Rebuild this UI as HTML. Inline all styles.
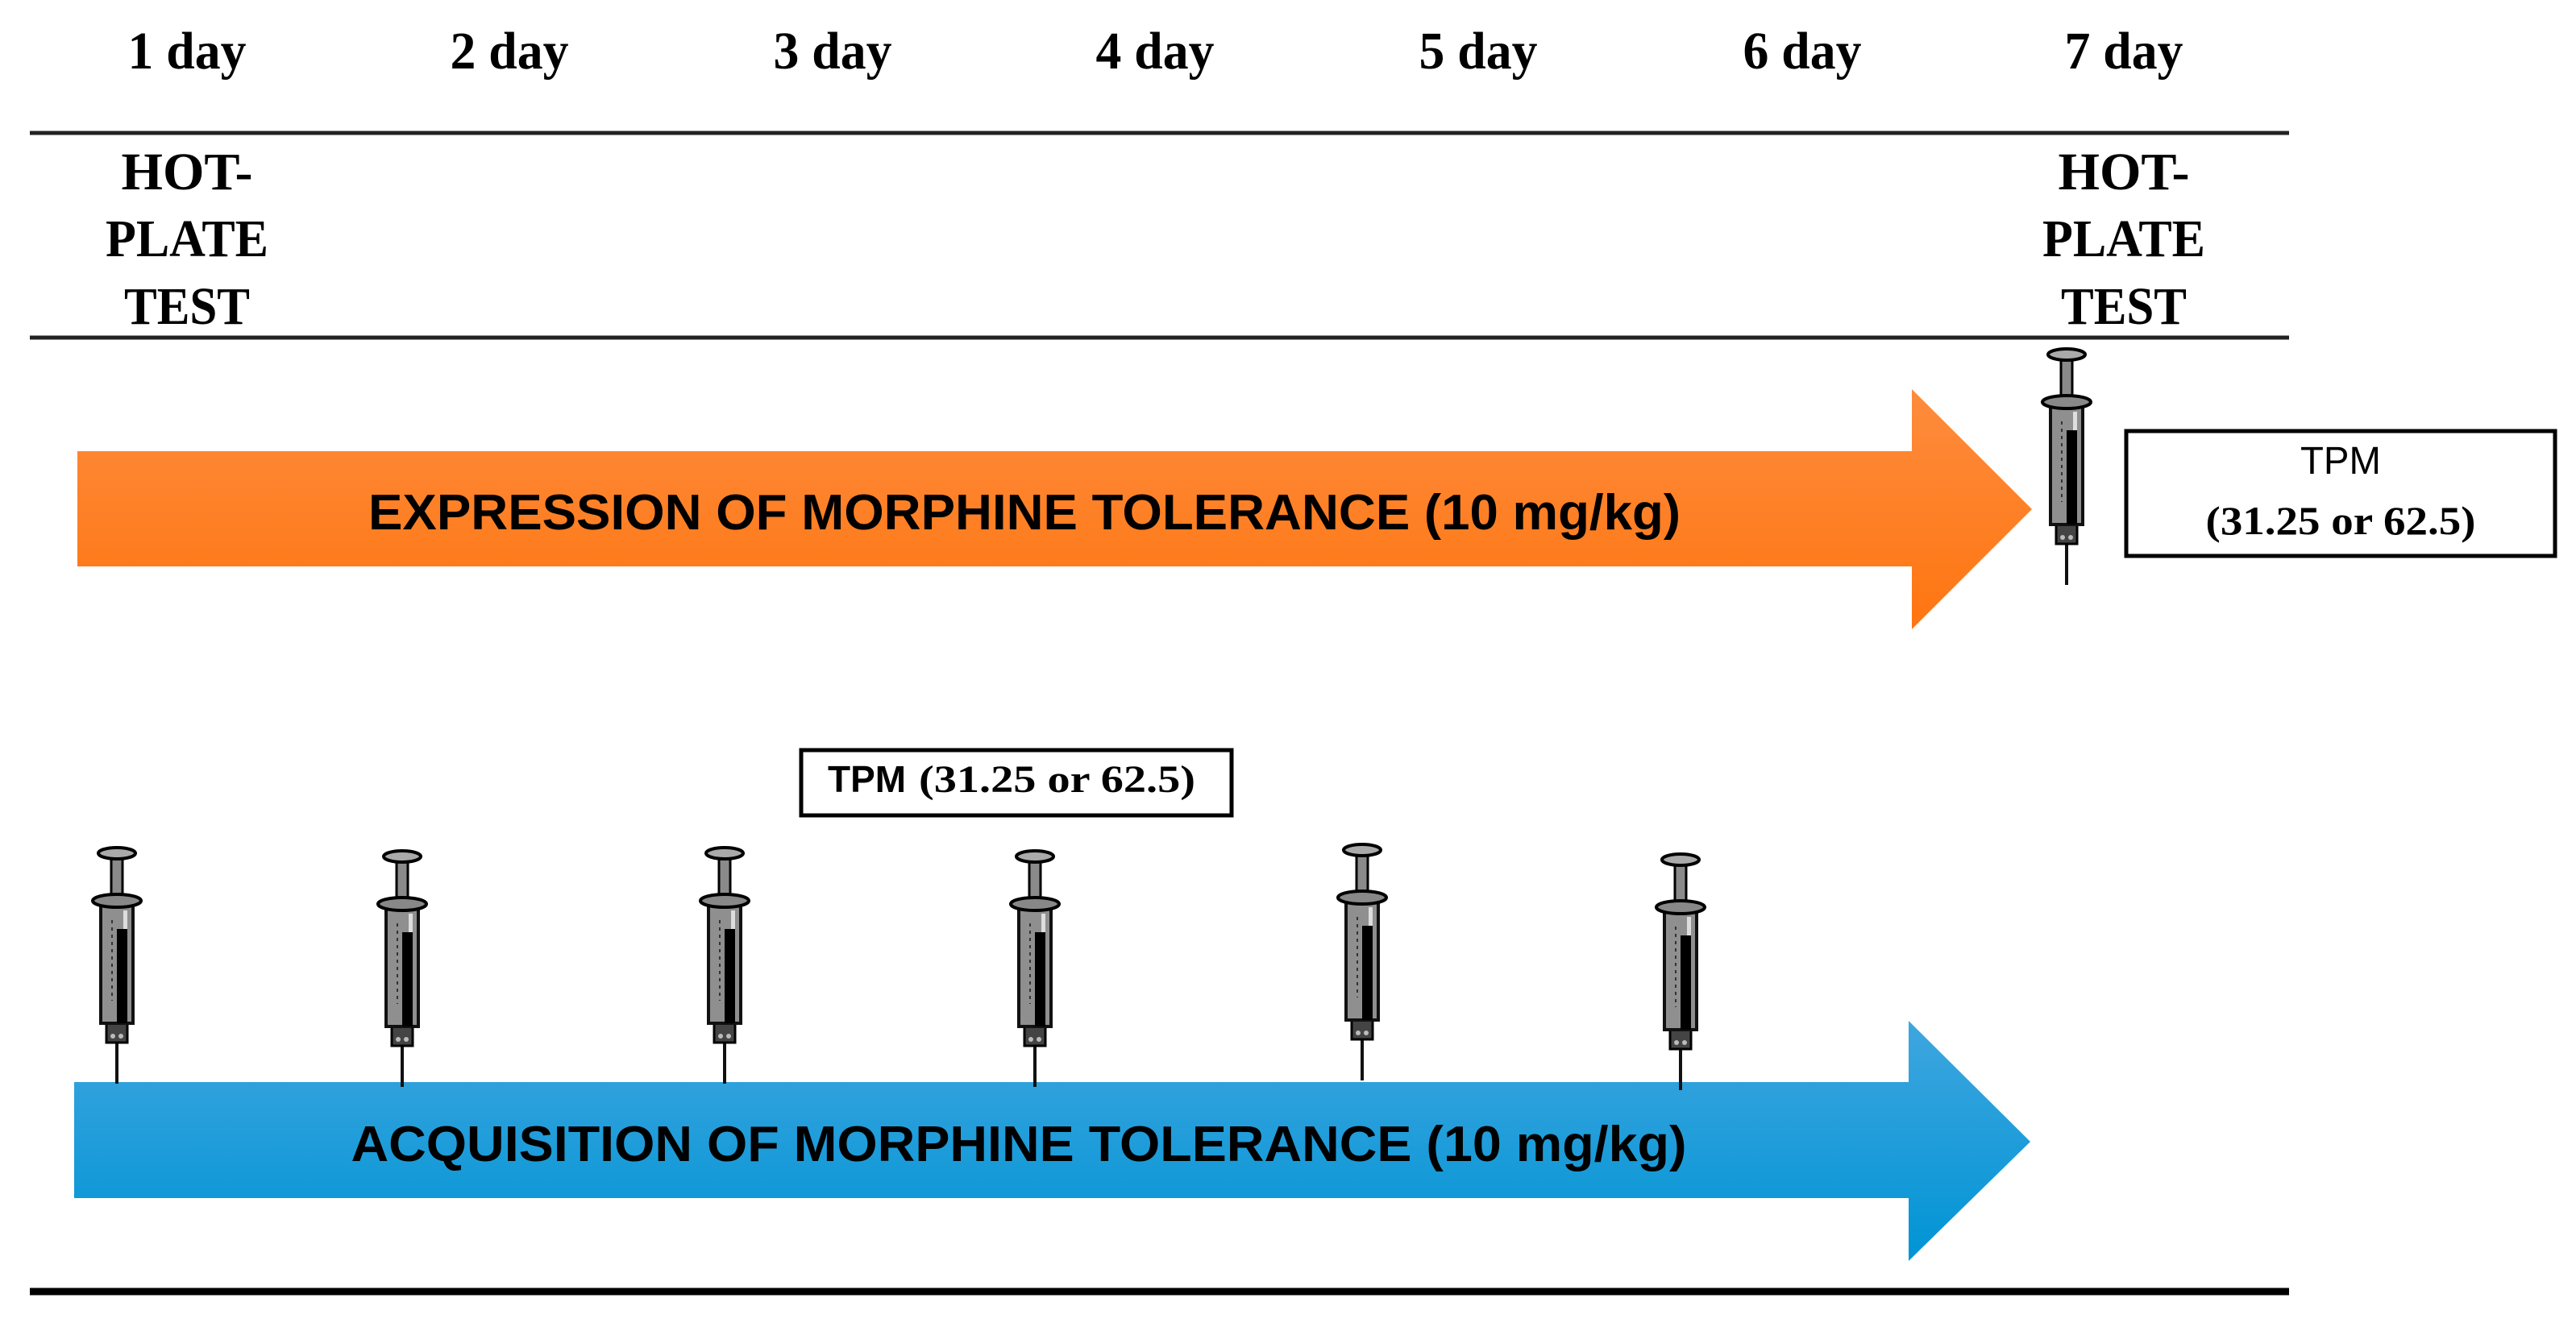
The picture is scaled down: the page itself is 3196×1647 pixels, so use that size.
<!DOCTYPE html>
<html><head><meta charset="utf-8"><style>
html,body{margin:0;padding:0;background:#fff;}
svg{display:block;}
</style></head><body>
<svg width="3196" height="1647" viewBox="0 0 3196 1647" xmlns="http://www.w3.org/2000/svg">
<defs>
<linearGradient id="og" x1="0" y1="0" x2="0" y2="1">
<stop offset="0" stop-color="#fd8c3e"/><stop offset="1" stop-color="#ff7510"/>
</linearGradient>
<linearGradient id="bg" x1="0" y1="0" x2="0" y2="1">
<stop offset="0" stop-color="#3fa6df"/><stop offset="1" stop-color="#0094d5"/>
</linearGradient>
<g id="syr">
<line x1="0" y1="238" x2="0" y2="293" stroke="#111" stroke-width="4"/>
<rect x="-13" y="216" width="26" height="26" fill="#444" stroke="#000" stroke-width="3"/>
<circle cx="-5" cy="234" r="3" fill="#bbb"/><circle cx="5" cy="234" r="3" fill="#bbb"/>
<rect x="-7" y="13" width="14" height="56" fill="#8a8a8a" stroke="#000" stroke-width="3"/>
<ellipse cx="0" cy="7" rx="23" ry="7" fill="#aaa" stroke="#000" stroke-width="4"/>
<rect x="-20" y="70" width="40" height="148" fill="#8f8f8f" stroke="#111" stroke-width="4"/>
<rect x="0" y="101" width="13" height="117" fill="#000"/>
<rect x="8" y="78" width="5" height="23" fill="#ddd"/>
<line x1="-6" y1="90" x2="-6" y2="190" stroke="#333" stroke-width="2" stroke-dasharray="4,5"/>
<ellipse cx="0" cy="66" rx="30" ry="8" fill="#888" stroke="#000" stroke-width="4"/>
</g>
</defs>

<g font-family="Liberation Serif, serif" font-size="66" font-weight="bold" fill="#000" text-anchor="middle" lengthAdjust="spacingAndGlyphs">
<text x="232" y="85" textLength="147" lengthAdjust="spacingAndGlyphs">1 day</text>
<text x="632" y="85" textLength="147" lengthAdjust="spacingAndGlyphs">2 day</text>
<text x="1033" y="85" textLength="147" lengthAdjust="spacingAndGlyphs">3 day</text>
<text x="1433" y="85" textLength="147" lengthAdjust="spacingAndGlyphs">4 day</text>
<text x="1834" y="85" textLength="147" lengthAdjust="spacingAndGlyphs">5 day</text>
<text x="2236" y="85" textLength="147" lengthAdjust="spacingAndGlyphs">6 day</text>
<text x="2635" y="85" textLength="147" lengthAdjust="spacingAndGlyphs">7 day</text>
<text x="232" y="235" textLength="163" lengthAdjust="spacingAndGlyphs">HOT-</text>
<text x="232" y="318" textLength="202" lengthAdjust="spacingAndGlyphs">PLATE</text>
<text x="232" y="402" textLength="156" lengthAdjust="spacingAndGlyphs">TEST</text>
<text x="2635" y="235" textLength="163" lengthAdjust="spacingAndGlyphs">HOT-</text>
<text x="2635" y="318" textLength="202" lengthAdjust="spacingAndGlyphs">PLATE</text>
<text x="2635" y="402" textLength="156" lengthAdjust="spacingAndGlyphs">TEST</text>
</g>

<line x1="37" y1="165" x2="2840" y2="165" stroke="#222" stroke-width="5"/>
<line x1="37" y1="419" x2="2840" y2="419" stroke="#222" stroke-width="5"/>
<line x1="37" y1="1603" x2="2840" y2="1603" stroke="#000" stroke-width="9"/>

<polygon points="96,560 2372,560 2372,483 2521,632 2372,781 2372,703 96,703" fill="url(#og)"/>
<text x="1271" y="657" font-family="Liberation Sans, sans-serif" font-weight="bold" font-size="62" text-anchor="middle" textLength="1628" lengthAdjust="spacingAndGlyphs">EXPRESSION OF MORPHINE TOLERANCE (10 mg/kg)</text>

<polygon points="92,1343 2368,1343 2368,1267 2519,1417 2368,1565 2368,1487 92,1487" fill="url(#bg)"/>
<text x="1264" y="1441" font-family="Liberation Sans, sans-serif" font-weight="bold" font-size="62" text-anchor="middle" textLength="1657" lengthAdjust="spacingAndGlyphs">ACQUISITION OF MORPHINE TOLERANCE (10 mg/kg)</text>

<rect x="2638" y="535" width="532" height="155" fill="#fff" stroke="#000" stroke-width="5"/>
<text x="2904" y="588" font-family="Liberation Sans, sans-serif" font-size="48" text-anchor="middle" textLength="100" lengthAdjust="spacingAndGlyphs">TPM</text>
<text x="2904" y="663" font-family="Liberation Serif, serif" font-weight="bold" font-size="50" text-anchor="middle" textLength="335" lengthAdjust="spacingAndGlyphs">(31.25 or 62.5)</text>

<rect x="994" y="931" width="534" height="81" fill="#fff" stroke="#000" stroke-width="5"/>
<text x="1027" y="983" font-family="Liberation Sans, sans-serif" font-weight="bold" font-size="46" textLength="97" lengthAdjust="spacingAndGlyphs">TPM</text>
<text x="1140" y="983" font-family="Liberation Serif, serif" font-weight="bold" font-size="48" textLength="343" lengthAdjust="spacingAndGlyphs">(31.25 or 62.5)</text>

<use href="#syr" transform="translate(2564,433)"/>
<use href="#syr" transform="translate(145,1052)"/>
<use href="#syr" transform="translate(499,1056)"/>
<use href="#syr" transform="translate(899,1052)"/>
<use href="#syr" transform="translate(1284,1056)"/>
<use href="#syr" transform="translate(1690,1048)"/>
<use href="#syr" transform="translate(2085,1060)"/>
</svg>
</body></html>
